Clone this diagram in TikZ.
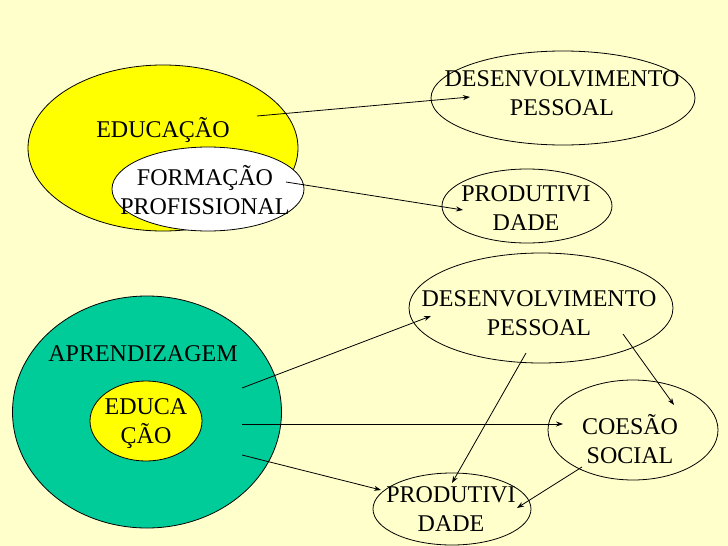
\documentclass[tikz,border=0pt]{standalone}
\usepackage{fontspec}
\setmainfont{Liberation Serif}
\usetikzlibrary{shapes.geometric,arrows.meta}
\definecolor{bg}{HTML}{FFFFCC}
\definecolor{ylw}{HTML}{FFFF00}
\definecolor{grn}{HTML}{00CC99}
\tikzset{
  ell/.style={ellipse, draw=black, line width=0.8pt, inner sep=0pt},
  txt/.style={align=center, inner sep=0pt, font=\fontsize{24}{29}\selectfont},
  arr/.style={draw=black, line width=0.8pt, -{Stealth[length=7pt,width=5pt]}}
}
\begin{document}
\begin{tikzpicture}[x=1pt,y=-1pt]
\useasboundingbox (0,0) rectangle (728,546);
\fill[bg] (0,0) rectangle (728,546);
\begin{scope}
\clip (0,0) rectangle (728,546);
% top group
\node[ell, fill=ylw, minimum width=270pt, minimum height=166pt] (edu) at (163,148) {};
\node[ell, fill=white, minimum width=192pt, minimum height=84pt] (form) at (208,189) {};
\node[ell, minimum width=264pt, minimum height=94pt] (dp1) at (563,98) {};
\node[ell, minimum width=170pt, minimum height=74pt] (pr1) at (527,206) {};
% bottom group
\node[ell, fill=grn, minimum width=269pt, minimum height=232pt] (apr) at (147,412) {};
\node[ell, fill=ylw, minimum width=112pt, minimum height=80pt] (edu2) at (146,421) {};
\node[ell, minimum width=264pt, minimum height=110pt] (dp2) at (541,308) {};
\node[ell, minimum width=170pt, minimum height=100pt] (coe) at (633,430) {};
\node[ell, minimum width=158pt, minimum height=72pt] (pr2) at (452,509) {};
\end{scope}
% texts
\node[txt] (tedu) at (163,130) {EDUCAÇÃO};
\node[txt] (tform) at (205,190) {FORMAÇÃO\\PROFISSIONAL};
\node[txt] (tdp1) at (562,93) {DESENVOLVIMENTO\\PESSOAL};
\node[txt] (tpr1) at (526,208) {PRODUTIVI\\DADE};
\node[txt] (tapr) at (143,354) {APRENDIZAGEM};
\node[txt] (tedu2) at (146,424) {EDUCA\\ÇÃO};
\node[txt] (tdp2) at (539,313) {DESENVOLVIMENTO\\PESSOAL};
\node[txt] (tcoe) at (630,439) {COESÃO\\ SOCIAL};
\node[txt] (tpr2) at (451,509) {PRODUTIVI\\DADE};
% connector end points
\coordinate (a1s) at (257,116); \coordinate (a1e) at (470,97);
\coordinate (a2s) at (286,182); \coordinate (a2e) at (463,210);
\coordinate (b1s) at (242,388); \coordinate (b1e) at (431,316);
\coordinate (b2s) at (242,424); \coordinate (b2e) at (563,424);
\coordinate (b3s) at (242,455); \coordinate (b3e) at (381,490);
\coordinate (c1s) at (526,353); \coordinate (c1e) at (452,483);
\coordinate (c2s) at (623,334); \coordinate (c2e) at (674,405);
\coordinate (c3s) at (582,467); \coordinate (c3e) at (517,508);
\draw[arr] (a1s) -- (a1e);
\draw[arr] (a2s) -- (a2e);
\draw[arr] (b1s) -- (b1e);
\draw[arr] (b2s) -- (b2e);
\draw[arr] (b3s) -- (b3e);
\draw[arr] (c1s) -- (c1e);
\draw[arr] (c2s) -- (c2e);
\draw[arr] (c3s) -- (c3e);
\end{tikzpicture}
\end{document}
